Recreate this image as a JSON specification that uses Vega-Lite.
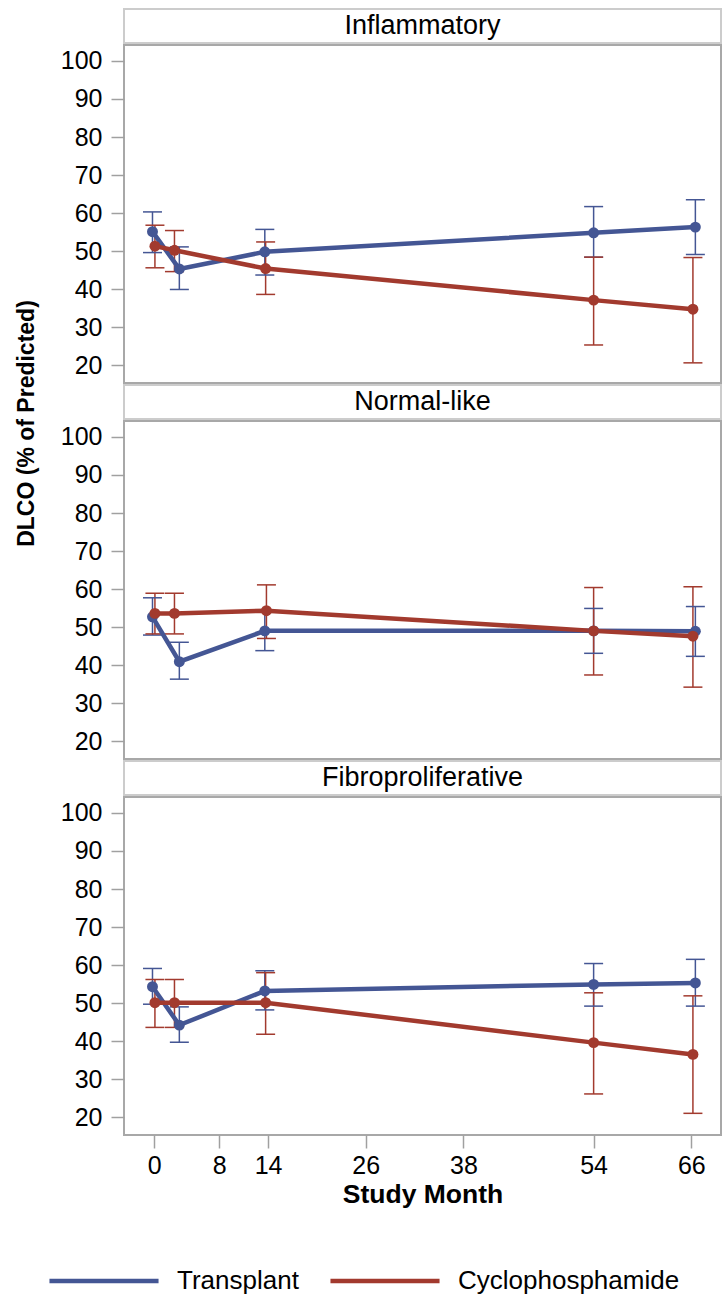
{
  "$schema": "https://vega.github.io/schema/vega-lite/v6.json",
  "padding": {"left": 14, "top": 8, "right": 3, "bottom": 5},
  "bounds": "flush",
  "config": {
    "font": "Liberation Sans",
    "view": {"stroke": "#a8a8a8", "strokeWidth": 2},
    "concat": {"spacing": 2},
    "axisY": {"domain": false, "grid": false, "tickColor": "#a0a0a0", "tickWidth": 1.5, "tickSize": 13, "labelPadding": 9, "labelFontSize": 25, "labelColor": "#000000", "titleFontSize": 23, "titleFontWeight": "bold", "titleColor": "#000000", "titlePadding": 22},
    "axisX": {"domain": false, "grid": false, "tickColor": "#a0a0a0", "tickWidth": 1.5, "tickSize": 13, "labelPadding": 5, "labelFontSize": 25, "labelColor": "#000000", "titleFontSize": 26.5, "titleFontWeight": "bold", "titleColor": "#000000", "titlePadding": 3},
    "legend": {"orient": "none", "legendX": -77, "legendY": 1215, "direction": "horizontal", "symbolType": "stroke", "symbolSize": 11900, "symbolStrokeWidth": 4.5, "labelFontSize": 26, "labelColor": "#000000", "labelOffset": 16, "labelLimit": 400, "columnPadding": 22}
  },
  "datasets": {
    "d": [
      {"panel": "Inflammatory", "group": "Transplant", "month": -0.2, "mean": 55.1, "lo": 49.6, "hi": 60.3},
      {"panel": "Inflammatory", "group": "Transplant", "month": 3.1, "mean": 45.3, "lo": 39.9, "hi": 51.1},
      {"panel": "Inflammatory", "group": "Transplant", "month": 13.6, "mean": 49.8, "lo": 43.7, "hi": 55.7},
      {"panel": "Inflammatory", "group": "Transplant", "month": 54.0, "mean": 54.8, "lo": 48.4, "hi": 61.7},
      {"panel": "Inflammatory", "group": "Transplant", "month": 66.5, "mean": 56.3, "lo": 49.1, "hi": 63.5},
      {"panel": "Normal-like", "group": "Transplant", "month": -0.2, "mean": 52.7, "lo": 47.9, "hi": 57.7},
      {"panel": "Normal-like", "group": "Transplant", "month": 3.1, "mean": 40.9, "lo": 36.3, "hi": 46.0},
      {"panel": "Normal-like", "group": "Transplant", "month": 13.6, "mean": 49.0, "lo": 43.8, "hi": 54.2},
      {"panel": "Normal-like", "group": "Transplant", "month": 54.0, "mean": 49.0, "lo": 43.1, "hi": 54.9},
      {"panel": "Normal-like", "group": "Transplant", "month": 66.5, "mean": 48.9, "lo": 42.3, "hi": 55.4},
      {"panel": "Fibroproliferative", "group": "Transplant", "month": -0.2, "mean": 54.3, "lo": 49.7, "hi": 59.1},
      {"panel": "Fibroproliferative", "group": "Transplant", "month": 3.1, "mean": 44.2, "lo": 39.7, "hi": 49.0},
      {"panel": "Fibroproliferative", "group": "Transplant", "month": 13.6, "mean": 53.2, "lo": 48.2, "hi": 58.5},
      {"panel": "Fibroproliferative", "group": "Transplant", "month": 54.0, "mean": 54.9, "lo": 49.2, "hi": 60.4},
      {"panel": "Fibroproliferative", "group": "Transplant", "month": 66.5, "mean": 55.3, "lo": 49.2, "hi": 61.5},
      {"panel": "Inflammatory", "group": "Cyclophosphamide", "month": 0.1, "mean": 51.3, "lo": 45.6, "hi": 56.8},
      {"panel": "Inflammatory", "group": "Cyclophosphamide", "month": 2.5, "mean": 50.2, "lo": 44.6, "hi": 55.4},
      {"panel": "Inflammatory", "group": "Cyclophosphamide", "month": 13.7, "mean": 45.4, "lo": 38.6, "hi": 52.4},
      {"panel": "Inflammatory", "group": "Cyclophosphamide", "month": 54.0, "mean": 37.1, "lo": 25.3, "hi": 48.4},
      {"panel": "Inflammatory", "group": "Cyclophosphamide", "month": 66.2, "mean": 34.7, "lo": 20.6, "hi": 48.3},
      {"panel": "Normal-like", "group": "Cyclophosphamide", "month": 0.1, "mean": 53.6, "lo": 48.2, "hi": 58.9},
      {"panel": "Normal-like", "group": "Cyclophosphamide", "month": 2.5, "mean": 53.6, "lo": 48.2, "hi": 58.9},
      {"panel": "Normal-like", "group": "Cyclophosphamide", "month": 13.8, "mean": 54.3, "lo": 47.0, "hi": 61.1},
      {"panel": "Normal-like", "group": "Cyclophosphamide", "month": 54.0, "mean": 49.0, "lo": 37.4, "hi": 60.4},
      {"panel": "Normal-like", "group": "Cyclophosphamide", "month": 66.2, "mean": 47.6, "lo": 34.2, "hi": 60.6},
      {"panel": "Fibroproliferative", "group": "Cyclophosphamide", "month": 0.1, "mean": 50.1, "lo": 43.6, "hi": 56.2},
      {"panel": "Fibroproliferative", "group": "Cyclophosphamide", "month": 2.5, "mean": 50.1, "lo": 43.6, "hi": 56.2},
      {"panel": "Fibroproliferative", "group": "Cyclophosphamide", "month": 13.7, "mean": 50.1, "lo": 41.8, "hi": 58.0},
      {"panel": "Fibroproliferative", "group": "Cyclophosphamide", "month": 54.0, "mean": 39.6, "lo": 26.1, "hi": 52.7},
      {"panel": "Fibroproliferative", "group": "Cyclophosphamide", "month": 66.2, "mean": 36.5, "lo": 21.0, "hi": 51.9}
    ]
  },
  "vconcat": [
    {
      "width": 597, "height": 34,
      "data": {"values": [{"label": "Inflammatory"}]},
      "view": {"stroke": "#cccccc", "strokeWidth": 2},
      "mark": {"type": "text", "fontSize": 27, "color": "#000000"},
      "encoding": {"text": {"field": "label"}}
    },
    {
      "width": 597, "height": 338,
      "data": {"name": "d"},
      "transform": [{"filter": "datum.panel === 'Inflammatory'"}],
      "encoding": {
        "x": {"field": "month", "type": "quantitative", "scale": {"domain": [-3.7, 69.65], "nice": false, "zero": false}, "axis": null},
        "color": {"field": "group", "type": "nominal", "scale": {"domain": ["Transplant", "Cyclophosphamide"], "range": ["#445694", "#A23A2E"]}, "legend": {"title": null}}
      },
      "layer": [
        {"mark": {"type": "rule", "strokeWidth": 1.5},
         "encoding": {"y": {"field": "lo", "type": "quantitative", "scale": {"domain": [15.3, 104.2], "nice": false, "zero": false}, "axis": {"values": [20, 30, 40, 50, 60, 70, 80, 90, 100], "title": null}}, "y2": {"field": "hi"}}},
        {"mark": {"type": "tick", "orient": "horizontal", "size": 19, "thickness": 1.5, "opacity": 1},
         "encoding": {"y": {"field": "lo", "type": "quantitative", "title": null}}},
        {"mark": {"type": "tick", "orient": "horizontal", "size": 19, "thickness": 1.5, "opacity": 1},
         "encoding": {"y": {"field": "hi", "type": "quantitative", "title": null}}},
        {"mark": {"type": "line", "strokeWidth": 4.5},
         "encoding": {"y": {"field": "mean", "type": "quantitative", "title": null}}},
        {"mark": {"type": "point", "filled": true, "size": 120, "opacity": 1},
         "encoding": {"y": {"field": "mean", "type": "quantitative", "title": null}}}
      ]
    },
    {
      "width": 597, "height": 34,
      "data": {"values": [{"label": "Normal-like"}]},
      "view": {"stroke": "#cccccc", "strokeWidth": 2},
      "mark": {"type": "text", "fontSize": 27, "color": "#000000"},
      "encoding": {"text": {"field": "label"}}
    },
    {
      "width": 597, "height": 338,
      "data": {"name": "d"},
      "transform": [{"filter": "datum.panel === 'Normal-like'"}],
      "encoding": {
        "x": {"field": "month", "type": "quantitative", "scale": {"domain": [-3.7, 69.65], "nice": false, "zero": false}, "axis": null},
        "color": {"field": "group", "type": "nominal", "scale": {"domain": ["Transplant", "Cyclophosphamide"], "range": ["#445694", "#A23A2E"]}, "legend": {"title": null}}
      },
      "layer": [
        {"mark": {"type": "rule", "strokeWidth": 1.5},
         "encoding": {"y": {"field": "lo", "type": "quantitative", "scale": {"domain": [15.3, 104.2], "nice": false, "zero": false}, "axis": {"values": [20, 30, 40, 50, 60, 70, 80, 90, 100], "title": "DLCO (% of Predicted)", "titleY": 2}}, "y2": {"field": "hi"}}},
        {"mark": {"type": "tick", "orient": "horizontal", "size": 19, "thickness": 1.5, "opacity": 1},
         "encoding": {"y": {"field": "lo", "type": "quantitative", "title": "DLCO (% of Predicted)"}}},
        {"mark": {"type": "tick", "orient": "horizontal", "size": 19, "thickness": 1.5, "opacity": 1},
         "encoding": {"y": {"field": "hi", "type": "quantitative", "title": "DLCO (% of Predicted)"}}},
        {"mark": {"type": "line", "strokeWidth": 4.5},
         "encoding": {"y": {"field": "mean", "type": "quantitative", "title": "DLCO (% of Predicted)"}}},
        {"mark": {"type": "point", "filled": true, "size": 120, "opacity": 1},
         "encoding": {"y": {"field": "mean", "type": "quantitative", "title": "DLCO (% of Predicted)"}}}
      ]
    },
    {
      "width": 597, "height": 34,
      "data": {"values": [{"label": "Fibroproliferative"}]},
      "view": {"stroke": "#cccccc", "strokeWidth": 2},
      "mark": {"type": "text", "fontSize": 27, "color": "#000000"},
      "encoding": {"text": {"field": "label"}}
    },
    {
      "width": 597, "height": 338,
      "data": {"name": "d"},
      "transform": [{"filter": "datum.panel === 'Fibroproliferative'"}],
      "encoding": {
        "x": {"field": "month", "type": "quantitative", "scale": {"domain": [-3.7, 69.65], "nice": false, "zero": false}, "axis": {"values": [0, 8, 14, 26, 38, 54, 66], "title": "Study Month"}},
        "color": {"field": "group", "type": "nominal", "scale": {"domain": ["Transplant", "Cyclophosphamide"], "range": ["#445694", "#A23A2E"]}, "legend": {"title": null}}
      },
      "layer": [
        {"mark": {"type": "rule", "strokeWidth": 1.5},
         "encoding": {"y": {"field": "lo", "type": "quantitative", "scale": {"domain": [15.3, 104.2], "nice": false, "zero": false}, "axis": {"values": [20, 30, 40, 50, 60, 70, 80, 90, 100], "title": null}}, "y2": {"field": "hi"}}},
        {"mark": {"type": "tick", "orient": "horizontal", "size": 19, "thickness": 1.5, "opacity": 1},
         "encoding": {"y": {"field": "lo", "type": "quantitative", "title": null}}},
        {"mark": {"type": "tick", "orient": "horizontal", "size": 19, "thickness": 1.5, "opacity": 1},
         "encoding": {"y": {"field": "hi", "type": "quantitative", "title": null}}},
        {"mark": {"type": "line", "strokeWidth": 4.5},
         "encoding": {"y": {"field": "mean", "type": "quantitative", "title": null}}},
        {"mark": {"type": "point", "filled": true, "size": 120, "opacity": 1},
         "encoding": {"y": {"field": "mean", "type": "quantitative", "title": null}}}
      ]
    }
  ]
}
